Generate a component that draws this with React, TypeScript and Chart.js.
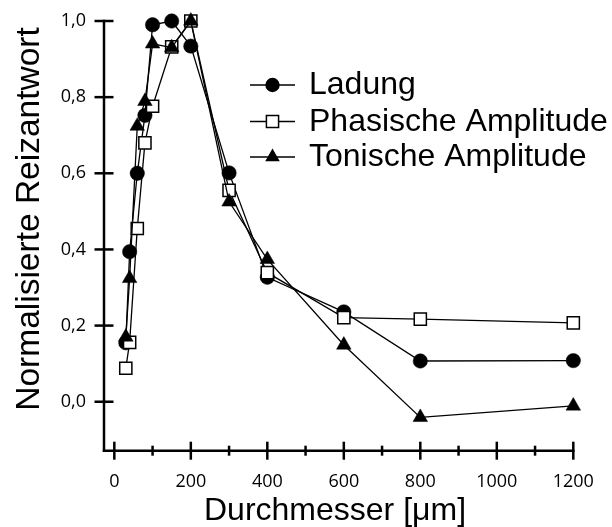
import React, { useEffect, useRef } from "react";
import { Chart, registerables } from "chart.js";

Chart.register(...registerables);

const diameters = [30, 40, 60, 80, 100, 150, 200, 300, 400, 600, 800, 1200];
const ladung = [0.155, 0.394, 0.6, 0.752, 0.99, 1.0, 0.934, 0.601, 0.327, 0.236, 0.107, 0.108];
const phasisch = [0.088, 0.156, 0.455, 0.68, 0.776, 0.932, 1.0, 0.555, 0.339, 0.221, 0.217, 0.207];
const tonisch = [0.17, 0.324, 0.724, 0.789, 0.94, 0.93, 1.0, 0.525, 0.374, 0.149, -0.041, -0.011];

const seriesNames = ["Ladung", "Phasische Amplitude", "Tonische Amplitude"];
const xTickValues = [0, 200, 400, 600, 800, 1000, 1200];
const xTickLabels = ["0", "200", "400", "600", "800", "1000", "1200"];
const xMinorTicks = [100, 300, 500, 700, 900, 1100];
const yTickValues = [0, 0.2, 0.4, 0.6, 0.8, 1.0];
const yTickLabels = ["0,0", "0,2", "0,4", "0,6", "0,8", "1,0"];
const xTitle = "Durchmesser [\u03bcm]";
const yTitle = "Normalisierte Reizantwort";

const TICK_FONT = "'Open Sans'";
const TITLE_FONT = "'Liberation Sans', Arial, sans-serif";

function drawMarker(ctx: CanvasRenderingContext2D, style: string, x: number, y: number, r: number) {
  ctx.save();
  ctx.lineWidth = 1.5;
  ctx.strokeStyle = "#000";
  ctx.beginPath();
  if (style === "circle") {
    ctx.arc(x, y, r, 0, Math.PI * 2);
    ctx.fillStyle = "#000";
    ctx.fill();
  } else if (style === "rect") {
    const s = Math.SQRT1_2 * r;
    ctx.rect(x - s, y - s, 2 * s, 2 * s);
    ctx.fillStyle = "#fff";
    ctx.fill();
    ctx.stroke();
  } else {
    for (let i = 0; i < 3; i++) {
      const a = (i * 2 * Math.PI) / 3;
      const px = x + Math.sin(a) * r;
      const py = y - Math.cos(a) * r;
      if (i === 0) ctx.moveTo(px, py);
      else ctx.lineTo(px, py);
    }
    ctx.closePath();
    ctx.fillStyle = "#000";
    ctx.fill();
  }
  ctx.restore();
}

const decorPlugin = {
  id: "decor",
  afterDraw(chart: any) {
    const ctx: CanvasRenderingContext2D = chart.ctx;
    const xs = chart.scales.x;
    const ys = chart.scales.y;
    const left = chart.chartArea.left;
    const bottom = chart.chartArea.bottom;
    ctx.save();
    ctx.strokeStyle = "#000";
    ctx.lineWidth = 2.5;
    ctx.lineCap = "butt";
    ctx.beginPath();
    ctx.moveTo(left, ys.getPixelForValue(yTickValues[yTickValues.length - 1]) - 1.2);
    ctx.lineTo(left, bottom + 1.2);
    ctx.stroke();
    ctx.beginPath();
    ctx.moveTo(left - 1.2, bottom);
    ctx.lineTo(xs.getPixelForValue(xTickValues[xTickValues.length - 1]) + 1.2, bottom);
    ctx.stroke();
    for (const v of yTickValues) {
      const py = ys.getPixelForValue(v);
      ctx.beginPath();
      ctx.moveTo(left - 9.5, py);
      ctx.lineTo(left + 9.5, py);
      ctx.stroke();
    }
    for (const v of xTickValues) {
      const px = xs.getPixelForValue(v);
      ctx.beginPath();
      ctx.moveTo(px, bottom - 9);
      ctx.lineTo(px, bottom + 9);
      ctx.stroke();
    }
    for (const v of xMinorTicks) {
      const px = xs.getPixelForValue(v);
      ctx.beginPath();
      ctx.moveTo(px, bottom - 5);
      ctx.lineTo(px, bottom + 5);
      ctx.stroke();
    }
    ctx.fillStyle = "#000";
    ctx.font = `32px ${TITLE_FONT}`;
    ctx.textAlign = "center";
    ctx.textBaseline = "alphabetic";
    ctx.fillText(xTitle, 335, 520);
    ctx.save();
    ctx.translate(39, 219);
    ctx.rotate(-Math.PI / 2);
    ctx.font = `33.5px ${TITLE_FONT}`;
    ctx.fillText(yTitle, 0, 0);
    ctx.restore();
    const rows = [85, 121.5, 157];
    ctx.font = `32px ${TITLE_FONT}`;
    ctx.textAlign = "left";
    [0, 1, 2].forEach((di, i) => {
      const ds = chart.data.datasets[di];
      const y = rows[i];
      ctx.lineWidth = 1.3;
      ctx.beginPath();
      ctx.moveTo(250, y);
      ctx.lineTo(295, y);
      ctx.stroke();
      drawMarker(ctx, ds.pointStyle, 272.5, y, ds.pointRadius);
      ctx.fillText(ds.label, 309, y + 9);
    });
    ctx.restore();
  },
};

export default function App() {
  const ref = useRef<HTMLCanvasElement>(null);
  useEffect(() => {
    if (!ref.current) return;
    const mk = (x: number[], y: number[]) => x.map((v, i) => ({ x: v, y: y[i] }));
    const chart = new Chart(ref.current, {
      type: "line",
      data: {
        datasets: [
          {
            label: seriesNames[0],
            data: mk(diameters, ladung),
            borderColor: "#000",
            borderWidth: 1.3,
            pointStyle: "circle",
            pointRadius: 7.2,
            pointBackgroundColor: "#000",
            pointBorderColor: "#000",
            pointBorderWidth: 0.5,
            clip: false,
            order: 3,
          } as any,
          {
            label: seriesNames[1],
            data: mk(diameters, phasisch),
            borderColor: "#000",
            borderWidth: 1.3,
            pointStyle: "rect",
            pointRadius: 8.6,
            pointBackgroundColor: "#fff",
            pointBorderColor: "#000",
            pointBorderWidth: 1.5,
            clip: false,
            order: 2,
          },
          {
            label: seriesNames[2],
            data: mk(diameters, tonisch),
            borderColor: "#000",
            borderWidth: 1.3,
            pointStyle: "triangle",
            pointRadius: 8.4,
            pointBackgroundColor: "#000",
            pointBorderColor: "#000",
            pointBorderWidth: 0.5,
            clip: false,
            order: 1,
          },
        ],
      },
      options: {
        animation: false,
        responsive: false,
        devicePixelRatio: 1,
        events: [],
        layout: { padding: { top: 21, right: 38.7, left: 0, bottom: 0 } },
        plugins: { legend: { display: false }, tooltip: { enabled: false } },
        scales: {
          x: {
            type: "linear",
            min: -27,
            max: 1200,
            grid: { display: false, drawTicks: false },
            border: { display: false },
            afterBuildTicks: (s: any) => {
              s.ticks = xTickValues.map((v) => ({ value: v }));
            },
            afterFit: (s: any) => {
              s.height = 527 - 450.7;
              s.paddingLeft = 0;
              s.paddingRight = 0;
            },
            ticks: {
              autoSkip: false,
              maxRotation: 0,
              padding: 20,
              color: "#000",
              font: { family: TICK_FONT, size: 18 },
              callback: (_v: any, i: number) => xTickLabels[i],
            },
          },
          y: {
            type: "linear",
            min: -0.1286,
            max: 1.0,
            grid: { display: false, drawTicks: false },
            border: { display: false },
            afterBuildTicks: (s: any) => {
              s.ticks = yTickValues.map((v) => ({ value: v }));
            },
            afterFit: (s: any) => {
              s.width = 104;
              s.paddingTop = 0;
              s.paddingBottom = 0;
            },
            ticks: {
              padding: 18,
              color: "#000",
              font: { family: TICK_FONT, size: 18 },
              callback: (_v: any, i: number) => yTickLabels[i],
            },
          },
        },
      },
      plugins: [decorPlugin],
    });
    return () => chart.destroy();
  }, []);
  return (
    <div style={{ position: "fixed", left: 0, top: 0, width: 612, height: 527, background: "#fff" }}>
      <canvas ref={ref} width={612} height={527} style={{ display: "block" }} />
    </div>
  );
}
